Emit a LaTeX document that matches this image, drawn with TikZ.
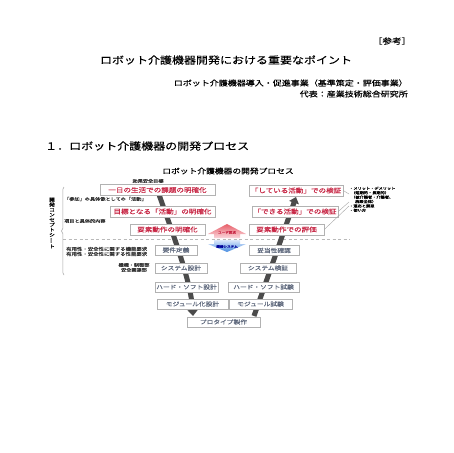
\documentclass[tikz,border=0pt]{standalone}
\usepackage{fontspec}
\setmainfont{Noto Sans CJK JP}[FakeStretch=1.2,FakeBold=0.25]
\usetikzlibrary{arrows.meta,decorations.pathreplacing,shadings}
\definecolor{boxred}{RGB}{200,40,70}
\definecolor{boxgray}{RGB}{95,105,125}
\definecolor{bandgray}{RGB}{75,75,75}
\definecolor{uptop}{RGB}{232,96,106}
\definecolor{upbot}{RGB}{250,215,220}
\definecolor{dntop}{RGB}{220,232,250}
\definecolor{dnbot}{RGB}{70,140,225}
\begin{document}
\begin{tikzpicture}[x=1pt,y=-1pt,
  topbox/.style={draw=gray!60, fill=white, line width=0.5pt, text=boxred,
    font=\fontsize{6.3}{7}\selectfont, inner sep=0pt, minimum height=11pt},
  lowbox/.style={draw=gray!60, fill=white, line width=0.5pt, text=boxgray,
    font=\fontsize{5.6}{6}\selectfont, inner sep=0pt, minimum height=10pt},
  smalllabel/.style={font=\fontsize{4.3}{5}\selectfont, text=black!80, inner sep=0pt},
  band/.style={line width=5pt, draw=bandgray, -{Triangle[width=10pt,length=6pt]}},
  thinline/.style={draw=gray!70, line width=0.4pt}]
\useasboundingbox (0,0) rectangle (453,453);
\fill[white] (0,0) rectangle (453,453);

% header texts
\node[font=\fontsize{8}{9}\selectfont, inner sep=0pt] (ref) at (392,41) {［参考］};
\node[font=\fontsize{10}{11}\selectfont, inner sep=0pt] (title) at (226,60) {ロボット介護機器開発における重要なポイント};
\node[font=\fontsize{7.5}{8}\selectfont, inner sep=0pt, anchor=east] (sub1) at (408,83) {ロボット介護機器導入・促進事業（基準策定・評価事業）};
\node[font=\fontsize{7.5}{8}\selectfont, inner sep=0pt, anchor=east] (sub2) at (408,94) {代表：産業技術総合研究所};
\node[font=\fontsize{10}{11}\selectfont, inner sep=0pt, anchor=west] (sec) at (45,146) {１．ロボット介護機器の開発プロセス};
\node[font=\fontsize{7.3}{8}\selectfont, inner sep=0pt] (dtitle) at (228,171) {ロボット介護機器の開発プロセス};

% dashed separator
\coordinate (dl) at (63,239);
\coordinate (dr) at (350,239);
\draw[gray!55, line width=0.6pt, dash pattern=on 3pt off 2.5pt] (dl) -- (dr);

% V bands
\coordinate (lbTop) at (156,186);
\coordinate (lbBot) at (193,316);
\coordinate (rbBot) at (254,316);
\coordinate (rbTop) at (296,197);
\draw[band] (lbTop) .. controls (172,232) and (191,280) .. (lbBot);
\draw[band] (rbBot) -- (rbTop);

% middle double arrow
\shade[top color=uptop, bottom color=upbot] (214,238) -- (214,234) -- (208,234) -- (227,224) -- (246,234) -- (240,234) -- (240,238) -- cycle;
\shade[top color=dntop, bottom color=dnbot] (214,240) -- (240,240) -- (240,244) -- (246,244) -- (227,252) -- (208,244) -- (214,244) -- cycle;
\node[font=\fontsize{3}{3}\selectfont, text=boxred, inner sep=0pt] (upt) at (227,232.5) {ユーザ要求};
\node[font=\fontsize{3}{3}\selectfont, text=blue!60!black, inner sep=0pt] (dnt) at (227,246.5) {機器システム};

% left boxes
\node[topbox, minimum width=115pt] (L1) at (157.5,190) {一日の生活での課題の明確化};
\node[topbox, minimum width=105pt] (L2) at (162.5,211.5) {目標となる「活動」の明確化};
\node[topbox, minimum width=75pt] (L3) at (167.5,229.5) {要素動作の明確化};
\node[lowbox, minimum width=42pt] (L4) at (176,250) {要件定義};
\node[lowbox, minimum width=52pt] (L5) at (181,268) {システム設計};
\node[lowbox, minimum width=63pt] (L6) at (186.5,287) {ハード・ソフト設計};
\node[lowbox, minimum width=71pt] (L7) at (192.5,304) {モジュール化設計};
\node[lowbox, minimum width=73pt] (P) at (223.5,322) {プロタイプ製作};

% right boxes
\node[topbox, minimum width=94pt] (R1) at (296,190.5) {「している活動」での検証};
\node[topbox, minimum width=86pt] (R2) at (295,211.5) {「できる活動」での検証};
\node[topbox, minimum width=75pt] (R3) at (286.5,229.5) {要素動作での評価};
\node[lowbox, minimum width=50pt] (R4) at (274,250.5) {妥当性確認};
\node[lowbox, minimum width=56pt] (R5) at (268,268) {システム検証};
\node[lowbox, minimum width=71pt] (R6) at (263.5,287) {ハード・ソフト試験};
\node[lowbox, minimum width=63pt] (R7) at (260.5,304) {モジュール試験};

% left labels
\node[smalllabel] (lab1) at (148,181) {効果安全目標};
\node[smalllabel, anchor=west] (lab2) at (64,199) {「参加」の具体像としての「活動」};
\node[smalllabel, anchor=west] (lab3) at (64,221) {項目と具体的内容};
\node[smalllabel, anchor=west, align=left, font=\fontsize{4.5}{5}\selectfont] (lab4) at (66,251.5) {有用性・安全性に関する機能要求\\有用性・安全性に関する性能要求};
\node[smalllabel, align=center] (lab5) at (134,267.5) {機構・制御部\\安全関連部};

% brace and vertical text
\coordinate (brB) at (64,275);
\coordinate (brT) at (64,187);
\draw[gray!70, line width=0.5pt, decorate, decoration={brace, amplitude=2.5pt}] (brB) -- (brT);
\node[font=\fontsize{4.8}{5}\selectfont, align=center, inner sep=0pt] (vt) at (52,223)
  {開\\発\\コ\\ン\\セ\\プ\\ト\\シ\\\rotatebox[origin=c]{90}{ー}\\ト};

% right annotations
\node[anchor=north west, align=left, inner sep=0pt, font=\fontsize{3.5}{4.4}\selectfont] (ann) at (349,186.5)
  {・メリット・デメリット\\\hspace{2pt}（短期的・長期的）\\\hspace{2pt}（被介護者・介護者、\\\hspace{6pt}施設全体）\\・適応と禁忌\\・使い方};
\coordinate (a1) at (349,194);
\coordinate (a2) at (349,202);
\coordinate (a3) at (349,206);
\draw[thinline] (R1.east) -- (a1);
\draw[thinline] (R2.east) -- (a2);
\draw[thinline] (R3.east) -- (a3);
\end{tikzpicture}
\end{document}
